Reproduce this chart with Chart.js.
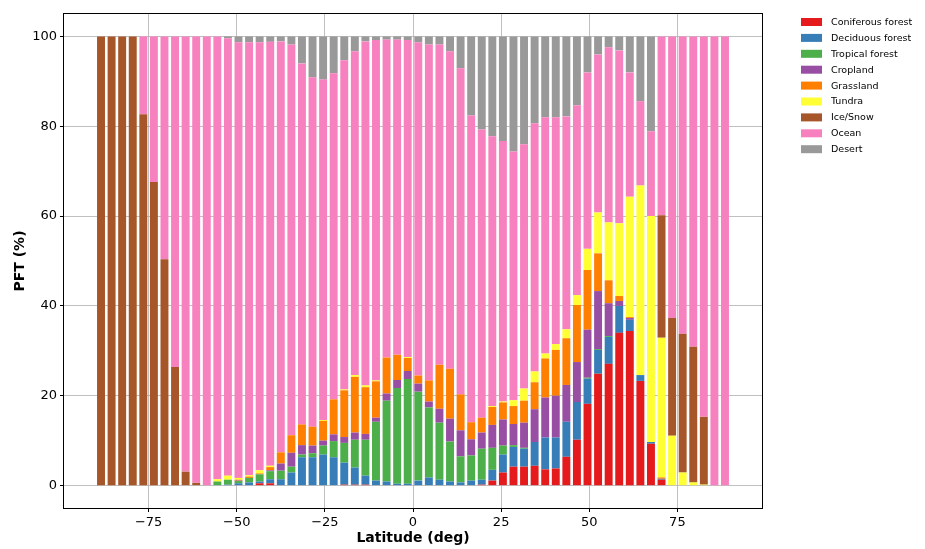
<!DOCTYPE html>
<html>
<head>
<meta charset="utf-8">
<script src="https://cdn.jsdelivr.net/npm/chart.js@4.4.1/dist/chart.umd.min.js"></script>
<style>
  html, body { margin: 0; padding: 0; background: #fff; }
  #wrap { width: 925px; height: 549px; position: relative; }
</style>
</head>
<body>
<div id="wrap"><canvas id="chart"></canvas></div>
<script>
// 纬度 (bar centres)
const latitudes = [-88.5, -85.5, -82.5, -79.5, -76.5, -73.5, -70.5, -67.5, -64.5, -61.5,
    -58.5, -55.5, -52.5, -49.5, -46.5, -43.5, -40.5, -37.5, -34.5, -31.5,
    -28.5, -25.5, -22.5, -19.5, -16.5, -13.5, -10.5, -7.5, -4.5, -1.5,
    1.5, 4.5, 7.5, 10.5, 13.5, 16.5, 19.5, 22.5, 25.5, 28.5,
    31.5, 34.5, 37.5, 40.5, 43.5, 46.5, 49.5, 52.5, 55.5, 58.5,
    61.5, 64.5, 67.5, 70.5, 73.5, 76.5, 79.5, 82.5, 85.5, 88.5];

const coniferous = [0, 0, 0, 0, 0, 0, 0, 0, 0, 0,
    0, 0, 0, 0, 0, 0.5, 0.5, 0, 0, 0,
    0, 0, 0, 0.2, 0.2, 0.2, 0, 0, 0, 0,
    0, 0, 0, 0, 0, 0, 0.2, 1.1, 2.9, 4.2,
    4.2, 4.4, 3.6, 3.8, 6.4, 10.2, 18.2, 24.9, 27.1, 34.0,
    34.4, 23.3, 9.3, 1.3, 0, 0, 0, 0, 0, 0];
const deciduous = [0, 0, 0, 0, 0, 0, 0, 0, 0, 0,
    0, 0.1, 0.2, 0.5, 0.7, 0.4, 0.9, 1.4, 2.9, 6.3,
    6.3, 6.9, 6.3, 4.9, 3.8, 2.0, 1.1, 0.9, 0.4, 0.4,
    1.1, 1.8, 1.3, 0.9, 0.7, 1.1, 1.1, 2.4, 4.0, 4.4,
    4.0, 5.3, 7.1, 6.9, 7.8, 8.4, 5.6, 5.3, 6.0, 6.0,
    2.5, 1.3, 0.4, 0.2, 0, 0, 0, 0, 0, 0];
const tropical = [0, 0, 0, 0, 0, 0, 0, 0, 0, 0,
    0, 0.8, 1.1, 0.5, 1.0, 1.6, 1.8, 1.9, 1.3, 0.6,
    0.9, 2.0, 3.6, 4.4, 6.2, 8.0, 13.1, 18.0, 21.3, 23.3,
    19.8, 15.6, 12.7, 8.9, 5.8, 5.6, 6.9, 4.9, 2.0, 0.4,
    0.2, 0, 0, 0, 0, 0, 0.2, 0.2, 0.2, 0,
    0, 0, 0, 0, 0, 0, 0, 0, 0, 0];
const cropland = [0, 0, 0, 0, 0, 0, 0, 0, 0, 0,
    0, 0, 0, 0.1, 0, 0, 0.2, 1.6, 3.1, 2.1,
    1.7, 1.1, 1.5, 1.3, 1.6, 1.3, 0.9, 1.6, 1.8, 1.8,
    1.8, 1.3, 3.1, 5.1, 5.8, 3.6, 3.6, 5.1, 5.8, 4.7,
    5.6, 7.3, 8.9, 9.3, 8.2, 8.9, 10.7, 12.9, 7.3, 1.1,
    0.4, 0, 0, 0, 0, 0, 0, 0, 0, 0];
const grassland = [0, 0, 0, 0, 0, 0, 0, 0, 0, 0,
    0, 0, 0, 0.2, 0.3, 0.2, 0.7, 2.5, 3.9, 4.6,
    4.2, 4.4, 7.8, 10.4, 12.4, 10.4, 8.1, 8.0, 5.6, 2.9,
    1.8, 4.7, 9.8, 11.1, 8.0, 3.8, 3.3, 4.0, 3.8, 4.0,
    4.9, 6.0, 8.7, 10.2, 10.4, 12.7, 13.3, 8.4, 5.1, 1.1,
    0.2, 0, 0, 0.3, 0, 0, 0, 0, 0, 0];
const tundra = [0, 0, 0, 0, 0, 0, 0, 0, 0, 0,
    0, 0.5, 0.9, 0.4, 0.3, 0.7, 0.3, 0, 0, 0,
    0, 0.2, 0, 0.2, 0.4, 0.4, 0.2, 0, 0, 0.2,
    0, 0, 0, 0, 0, 0, 0, 0.2, 0.2, 1.3,
    2.7, 2.4, 1.1, 1.3, 2.0, 2.2, 4.7, 9.1, 12.9, 16.2,
    26.8, 42.2, 50.3, 31.1, 11.1, 2.9, 0.7, 0.2, 0, 0];
const iceSnow = [100, 100, 100, 100, 82.7, 67.6, 50.4, 26.4, 3.1, 0.6,
    0, 0, 0, 0, 0, 0, 0, 0, 0, 0,
    0, 0, 0, 0, 0, 0, 0, 0, 0, 0,
    0, 0, 0, 0, 0, 0, 0, 0, 0, 0,
    0, 0, 0, 0, 0, 0, 0, 0, 0, 0,
    0, 0, 0, 27.3, 26.2, 30.9, 30.2, 15.1, 0, 0];
const ocean = [0, 0, 0, 0, 17.3, 32.4, 49.6, 73.6, 96.9, 99.4,
    100, 98.6, 97.4, 97.0, 96.4, 95.3, 94.4, 91.5, 87.0, 80.4,
    77.8, 75.8, 72.6, 73.3, 72.1, 76.6, 75.8, 70.8, 70.2, 70.6,
    74.2, 74.8, 71.3, 70.7, 72.6, 68.3, 64.2, 60.1, 58.0, 55.4,
    54.4, 55.3, 52.6, 50.5, 47.4, 42.3, 39.3, 35.2, 39.0, 38.5,
    27.7, 18.8, 18.9, 39.8, 62.7, 66.2, 69.1, 84.7, 100, 100];
const desert = [0, 0, 0, 0, 0, 0, 0, 0, 0, 0,
    0, 0, 0.4, 1.3, 1.3, 1.3, 1.2, 1.1, 1.8, 6.0,
    9.1, 9.6, 8.2, 5.3, 3.3, 1.1, 0.8, 0.7, 0.7, 0.8,
    1.3, 1.8, 1.8, 3.3, 7.1, 17.6, 20.7, 22.2, 23.3, 25.6,
    24.0, 19.3, 18.0, 18.0, 17.8, 15.3, 8.0, 4.0, 2.4, 3.1,
    8.0, 14.4, 21.1, 0, 0, 0, 0, 0, 0, 0];

const pftNames = ['Coniferous forest', 'Deciduous forest', 'Tropical forest', 'Cropland',
    'Grassland', 'Tundra', 'Ice/Snow', 'Ocean', 'Desert'];
const pftValues = [coniferous, deciduous, tropical, cropland, grassland, tundra, iceSnow, ocean, desert];
const pftColors = ['#e41a1c', '#377eb8', '#4daf4a', '#984ea3', '#ff7f00', '#ffff33', '#a65628', '#f781bf', '#999999'];

const xTicks = [-75, -50, -25, 0, 25, 50, 75];
const yTicks = [0, 20, 40, 60, 80, 100];

const FONT = "'DejaVu Sans', sans-serif";

// matplotlib style minus sign
function fmtTick(v) {
    return v < 0 ? '\u2212' + Math.abs(v) : String(v);
}

// 边框 (all four spines)
const framePlugin = {
    id: 'frame',
    afterDraw(chart) {
        const { ctx, chartArea: a } = chart;
        const l = Math.round(a.left) - 0.5, t = Math.round(a.top) - 0.5;
        const r = Math.round(a.right) + 0.5, b = Math.round(a.bottom) + 0.5;
        ctx.save();
        ctx.strokeStyle = '#000';
        ctx.lineWidth = 1;
        ctx.strokeRect(l, t, r - l, b - t);
        ctx.restore();
    }
};

// 图例 (drawn outside the axes, top right)
const legendPlugin = {
    id: 'sideLegend',
    afterDraw(chart) {
        const ctx = chart.ctx;
        ctx.save();
        ctx.font = '9.5px ' + FONT;
        ctx.textBaseline = 'middle';
        chart.data.datasets.forEach((ds, i) => {
            const y = 22 + i * 15.9;
            ctx.fillStyle = ds.backgroundColor;
            ctx.fillRect(801, y - 4, 21, 8);
            ctx.fillStyle = '#000';
            ctx.fillText(ds.label, 831, y + 0.5);
        });
        ctx.restore();
    }
};

const datasets = pftValues.map((vals, i) => ({
    label: pftNames[i],
    data: vals.map((v, j) => ({ x: latitudes[j], y: v })),
    backgroundColor: pftColors[i],
    borderWidth: 0,
    barPercentage: 0.75,
    categoryPercentage: 1.0
}));

new Chart(document.getElementById('chart'), {
    type: 'bar',
    data: { datasets: datasets },
    options: {
        responsive: true,
        maintainAspectRatio: false,
        animation: false,
        layout: { padding: { top: 14, right: 163, left: 0, bottom: 0 } },
        plugins: {
            legend: { display: false },
            tooltip: { enabled: false }
        },
        scales: {
            x: {
                type: 'linear',
                stacked: true,
                offset: false,
                min: -99,
                max: 99,
                z: 1,
                afterBuildTicks: s => { s.ticks = xTicks.map(v => ({ value: v })); },
                afterFit: s => { s.height = 41; },
                grid: { offset: false, color: '#b0b0b0', lineWidth: 0.8, tickColor: '#000', tickLength: 4, tickWidth: 1 },
                border: { display: false },
                ticks: {
                    autoSkip: false, maxRotation: 0, padding: 3, color: '#000',
                    font: { family: FONT, size: 13 },
                    callback: v => fmtTick(v)
                },
                title: {
                    display: true, text: 'Latitude (deg)', color: '#000',
                    font: { family: FONT, size: 14, weight: 'bold' },
                    padding: { top: 0, bottom: 2 }
                }
            },
            y: {
                stacked: true,
                min: -5,
                max: 105,
                z: 1,
                afterBuildTicks: s => { s.ticks = yTicks.map(v => ({ value: v })); },
                afterFit: s => { s.width = 64; },
                grid: { color: '#b0b0b0', lineWidth: 0.8, tickColor: '#000', tickLength: 4, tickWidth: 1 },
                border: { display: false },
                ticks: {
                    padding: 3, color: '#000',
                    font: { family: FONT, size: 13 },
                    callback: v => fmtTick(v)
                },
                title: {
                    display: true, text: 'PFT (%)', color: '#000',
                    font: { family: FONT, size: 14, weight: 'bold' },
                    padding: { top: 12, bottom: 0 }
                }
            }
        }
    },
    plugins: [framePlugin, legendPlugin]
});
</script>
</body>
</html>
